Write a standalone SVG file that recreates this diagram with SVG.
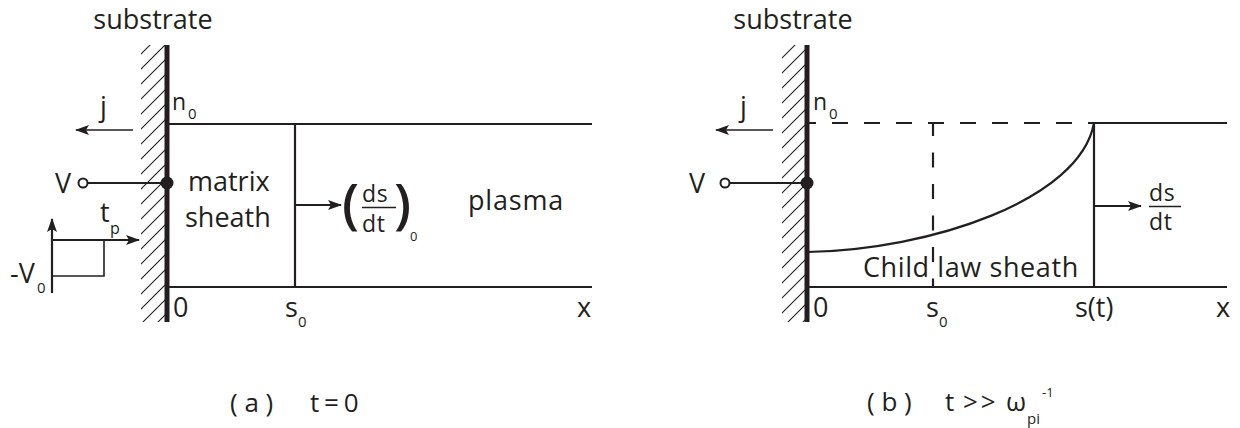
<svg xmlns="http://www.w3.org/2000/svg" width="1240" height="428" viewBox="0 0 1240 428">
<style>
text{font-family:"Open Sans","DejaVu Sans",sans-serif;fill:#231f20}
.lab{font-size:27px}
.sm{font-size:23px}
.fr{font-size:23px;letter-spacing:0.8px}
.sub{font-size:15px}
.ln{stroke:#231f20;stroke-width:2.2;fill:none}
.thin{stroke:#231f20;stroke-width:1.6;fill:none}
.wall{stroke:#231f20;stroke-width:5;fill:none}
.dash{stroke:#231f20;stroke-width:2.2;fill:none}
</style>
<defs>
<pattern id="hatch" patternUnits="userSpaceOnUse" width="15" height="15">
<path d="M-1,1 l2,-2 M0,15 l15,-15 M14,16 l2,-2" stroke="#231f20" stroke-width="1.1"/>
</pattern>
<marker id="arr" viewBox="0 0 14 10" refX="13" refY="5" markerWidth="14" markerHeight="10" markerUnits="userSpaceOnUse" orient="auto">
<path d="M0,0 L14,5 L0,10 L3,5 Z" fill="#231f20"/>
</marker>
</defs>

<g id="panel-a">
<text class="lab" x="153" y="29" text-anchor="middle">substrate</text>
<rect x="141" y="45" width="25" height="277" fill="url(#hatch)"/>
<line class="wall" x1="167" y1="45" x2="167" y2="322"/>
<text class="sm" x="172" y="110">n</text><text class="sub" x="188" y="119">0</text>
<text class="lab" x="100" y="116">j</text>
<text class="lab" x="55" y="193">V</text>
<text class="lab" x="188" y="191">matrix</text>
<text class="lab" x="185" y="227">sheath</text>
<text class="lab" x="468" y="210" letter-spacing="0.8">plasma</text>
<text class="lab" x="173" y="317">0</text>
<text class="lab" x="285" y="317">s</text><text class="sub" x="298" y="327">0</text>
<text class="lab" x="577" y="317">x</text>
<text style="font-size:54px;font-weight:600" x="342" y="223">(</text>
<text style="font-size:54px;font-weight:600" x="394" y="223">)</text>
<text class="fr" x="362" y="202">ds</text>
<line x1="362" y1="207.5" x2="396" y2="207.5" stroke="#231f20" stroke-width="1.5"/>
<text class="fr" x="362" y="232">dt</text>
<text style="font-size:13px" x="410" y="241">0</text>
</g>

<g id="pulse-inset">
<path class="thin" d="M52,240 H104 V276 H52"/>
<text class="lab" x="100" y="222">t</text><text style="font-size:16px" x="110" y="234">p</text>
<text class="lab" x="10" y="283">-V</text><text class="sub" x="37" y="293">0</text>
</g>

<g id="panel-b">
<text class="lab" x="793" y="29" text-anchor="middle">substrate</text>
<rect x="782" y="45" width="25" height="277" fill="url(#hatch)"/>
<line class="wall" x1="807" y1="45" x2="807" y2="322"/>
<text class="sm" x="813" y="110">n</text><text class="sub" x="829" y="119">0</text>
<text class="lab" x="740" y="116">j</text>
<text class="lab" x="689" y="193">V</text>
<text class="lab" x="863" y="277" letter-spacing="0.6">Child law sheath</text>
<text class="lab" x="813" y="317">0</text>
<text class="lab" x="926" y="317">s</text><text class="sub" x="939" y="327">0</text>
<text class="lab" x="1075" y="317">s(t)</text>
<text class="lab" x="1216" y="317">x</text>
<text class="fr" x="1149" y="201">ds</text>
<line x1="1149" y1="206.5" x2="1181" y2="206.5" stroke="#231f20" stroke-width="1.5"/>
<text class="fr" x="1149" y="230">dt</text>
<path class="ln" d="M807,252 C930,250 1080,200 1094,123"/>
</g>

<g id="connectors">
<line class="ln" x1="167" y1="124" x2="592" y2="124"/>
<line class="ln" x1="167" y1="287" x2="592" y2="287"/>
<line class="ln" x1="295" y1="124" x2="295" y2="287"/>
<line class="ln" x1="295" y1="205" x2="341" y2="205" marker-end="url(#arr)"/>
<line class="thin" x1="133" y1="130" x2="76" y2="130" marker-end="url(#arr)"/>
<line class="ln" x1="88" y1="183" x2="167" y2="183"/>
<circle cx="83" cy="183" r="4.5" fill="#fff" stroke="#231f20" stroke-width="2"/>
<circle cx="167" cy="183" r="6.5" fill="#231f20"/>
<line class="ln" x1="52" y1="293" x2="52" y2="219" marker-end="url(#arr)"/>
<line class="ln" x1="52" y1="240" x2="139" y2="240" marker-end="url(#arr)"/>

<path class="dash" d="M807,123 H1094" stroke-dasharray="16 16" stroke-dashoffset="7"/>
<path class="dash" d="M933,123 V287" stroke-dasharray="15 16.5" stroke-dashoffset="2"/>
<line class="ln" x1="1094" y1="123" x2="1227" y2="123"/>
<line class="ln" x1="807" y1="287" x2="1227" y2="287"/>
<line class="ln" x1="1094" y1="123" x2="1094" y2="287"/>
<line class="ln" x1="1094" y1="206" x2="1141" y2="206" marker-end="url(#arr)"/>
<line class="thin" x1="773" y1="130" x2="716" y2="130" marker-end="url(#arr)"/>
<line class="ln" x1="730" y1="183" x2="807" y2="183"/>
<circle cx="725" cy="183" r="4.5" fill="#fff" stroke="#231f20" stroke-width="2"/>
<circle cx="807" cy="183" r="6.5" fill="#231f20"/>
</g>

<g id="captions">
<text style="font-size:26px" x="230" y="412">( a )</text>
<text style="font-size:26px" x="310" y="412" word-spacing="-2">t = 0</text>
<text style="font-size:26px" x="867" y="411">( b )</text>
<text style="font-size:26px" x="945" y="411">t</text>
<text style="font-size:26px" x="963" y="411" letter-spacing="3">&gt;&gt;</text>
<text style="font-size:26px" x="1006" y="411">ω</text>
<text class="sub" x="1027" y="424">pi</text>
<text style="font-size:13px" x="1042" y="397">-1</text>
</g>
</svg>
